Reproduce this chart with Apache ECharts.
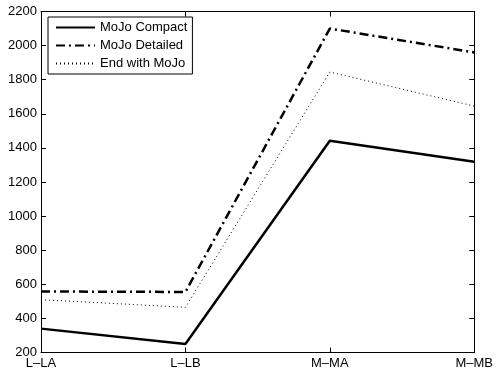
<!DOCTYPE html>
<html><head><meta charset="utf-8">
<script src="https://cdn.jsdelivr.net/npm/echarts@6/dist/echarts.min.js"></script>
<style>html,body{margin:0;padding:0;background:#fff}#c{width:496px;height:379px}</style>
</head><body><div id="c"></div>
<script>
const categories = ['L\u2013LA', 'L\u2013LB', 'M\u2013MA', 'M\u2013MB'];
const mojoCompact = [340, 250, 1442, 1319];
const mojoDetailed = [558, 555, 2100, 1960];
const endWithMojo = [510, 465, 1845, 1645];
const yTicks = {min: 200, max: 2200, interval: 200};

const font = 'Liberation Sans, Arial, Helvetica, sans-serif';
const chart = echarts.init(document.getElementById('c'), null, {renderer: 'canvas'});
const axisCommon = {
  axisLine: {show: true, lineStyle: {color: '#000', width: 1}},
  axisTick: {show: true, inside: true, length: 5, lineStyle: {color: '#000'}},
  splitLine: {show: false}
};
chart.setOption({
  animation: false,
  backgroundColor: '#fff',
  grid: {left: 41, right: 21, top: 11.5, bottom: 26.5, containLabel: false},
  legend: {
    left: 48, top: 17, orient: 'vertical',
    itemWidth: 39, itemHeight: 10, itemGap: 5,
    borderColor: '#000', borderWidth: 1, padding: [4, 5, 4, 7],
    backgroundColor: '#fff',
    itemStyle: {color: 'rgba(0,0,0,0)', borderWidth: 0, opacity: 0},
    textStyle: {fontFamily: font, fontSize: 13, color: '#000', padding: [0, 0, 0, 0]},
    data: ['MoJo Compact', 'MoJo Detailed', 'End with MoJo']
  },
  xAxis: [
    Object.assign({type: 'category', data: categories, boundaryGap: false, position: 'bottom',
      axisLabel: {color: '#000', fontFamily: font, fontSize: 13, margin: 4}}, axisCommon),
    Object.assign({type: 'category', data: categories, boundaryGap: false, position: 'top',
      axisLabel: {show: false}}, axisCommon)
  ],
  yAxis: [
    Object.assign({type: 'value', min: yTicks.min, max: yTicks.max, interval: yTicks.interval, position: 'left',
      axisLabel: {color: '#000', fontFamily: font, fontSize: 13, margin: 4, formatter: v => String(v)}}, axisCommon),
    Object.assign({type: 'value', min: yTicks.min, max: yTicks.max, interval: yTicks.interval, position: 'right',
      axisLabel: {show: false}}, axisCommon)
  ],
  series: [
    {name: 'MoJo Compact', type: 'line', data: mojoCompact, symbol: 'none', itemStyle: {color: '#000'},
      lineStyle: {color: '#000', width: 2.5, type: 'solid'}},
    {name: 'MoJo Detailed', type: 'line', data: mojoDetailed, symbol: 'none', itemStyle: {color: '#000'},
      lineStyle: {color: '#000', width: 2.5, type: [9, 4, 2, 4]}},
    {name: 'End with MoJo', type: 'line', data: endWithMojo, symbol: 'none', itemStyle: {color: '#000'},
      lineStyle: {color: '#000', width: 1, type: [1, 3]}}
  ]
});
</script></body></html>
